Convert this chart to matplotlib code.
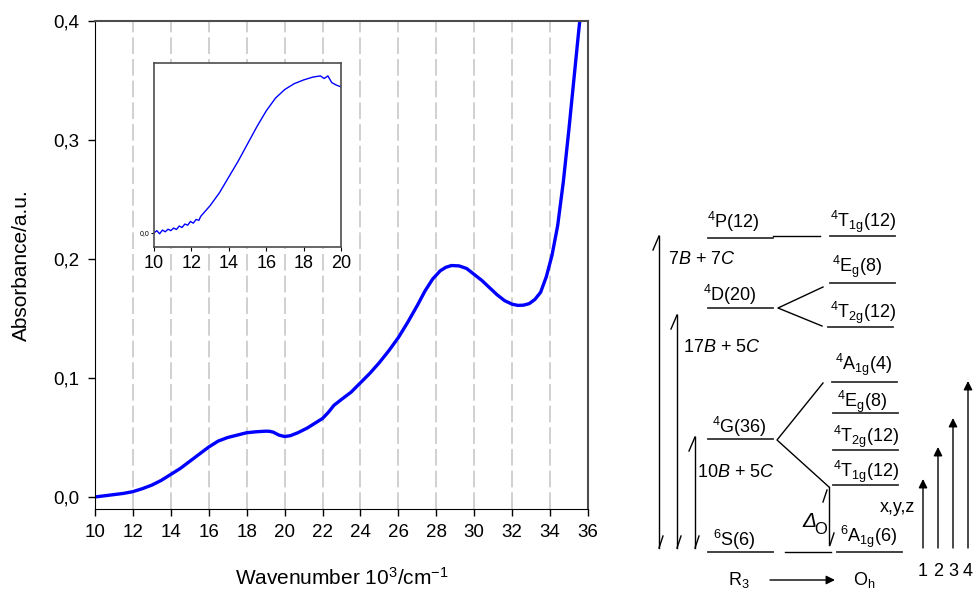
import numpy as np
import matplotlib
matplotlib.use('Agg')
from matplotlib import pyplot as plt
from matplotlib.ticker import FuncFormatter

plt.rcParams['font.family'] = ['Liberation Sans', 'DejaVu Sans']
plt.rcParams['mathtext.fontset'] = 'custom'
plt.rcParams['mathtext.rm'] = 'Liberation Sans'
plt.rcParams['mathtext.it'] = 'Liberation Sans:italic'
plt.rcParams['mathtext.bf'] = 'Liberation Sans:bold'

# absorption spectrum (10^3 cm^-1, a.u.)
wavenumber = [10, 10.5, 11, 11.5, 12, 12.5, 13, 13.5, 14, 14.5, 15, 15.5, 16, 16.5,
              17, 17.5, 18, 18.5, 19, 19.2, 19.4, 19.7, 20, 20.3, 20.7, 21.2, 21.6,
              22, 22.3, 22.6, 23, 23.5, 24, 24.5, 25, 25.5, 26, 26.5, 27, 27.4,
              27.8, 28.2, 28.5, 28.8, 29.2, 29.6, 30, 30.4, 30.8, 31.2, 31.6, 32,
              32.3, 32.6, 32.9, 33.2, 33.5, 33.8, 34.1, 34.4, 34.7, 35, 35.25,
              35.5, 35.7]
absorbance = [0.000, 0.001, 0.002, 0.003, 0.0045, 0.007, 0.010, 0.014, 0.019, 0.024,
              0.030, 0.036, 0.042, 0.047, 0.050, 0.052, 0.054, 0.0548, 0.0553,
              0.0552, 0.0545, 0.052, 0.0508, 0.0515, 0.054, 0.058, 0.062, 0.066,
              0.071, 0.077, 0.082, 0.088, 0.096, 0.104, 0.113, 0.123, 0.134, 0.147,
              0.161, 0.173, 0.183, 0.190, 0.193, 0.1945, 0.1942, 0.192, 0.187,
              0.182, 0.176, 0.170, 0.165, 0.162, 0.161, 0.1612, 0.1625, 0.166,
              0.172, 0.185, 0.203, 0.228, 0.265, 0.310, 0.350, 0.390, 0.420]

# inset: the 10-20 region, noisy at the low end
inset_wavenumber = [10, 10.15, 10.3, 10.45, 10.6, 10.75, 10.9, 11.05, 11.2, 11.35,
                    11.5, 11.65, 11.8, 11.95, 12.1, 12.25, 12.4, 12.5, 13, 13.5, 14,
                    14.5, 15, 15.5, 16, 16.5, 17, 17.5, 18, 18.5, 18.9, 19.1, 19.3,
                    19.5, 19.75, 20]
inset_absorbance = [0.0, 0.0008, -0.0003, 0.0010, 0.0004, 0.0013, 0.0008, 0.0017,
                    0.0012, 0.0024, 0.0019, 0.0031, 0.0027, 0.0040, 0.0034, 0.0047,
                    0.0044, 0.0058, 0.0095, 0.014, 0.0195, 0.025, 0.031, 0.037,
                    0.0425, 0.047, 0.050, 0.052, 0.0533, 0.0543, 0.0547, 0.0538,
                    0.0547, 0.0524, 0.0515, 0.0509]

x_ticks = np.arange(10, 37, 2)
y_ticks = [0.0, 0.1, 0.2, 0.3, 0.4]
inset_ticks = np.arange(10, 21, 2)

# term diagram: free ion (R3) terms split in the octahedral (Oh) field
free_ion_terms = [r'$^4$P(12)', r'$^4$D(20)', r'$^4$G(36)', r'$^6$S(6)']
oh_terms = [r'$^4$T$_\mathrm{1g}$(12)', r'$^4$E$_\mathrm{g}$(8)',
            r'$^4$T$_\mathrm{2g}$(12)', r'$^4$A$_\mathrm{1g}$(4)',
            r'$^4$E$_\mathrm{g}$(8)', r'$^4$T$_\mathrm{2g}$(12)',
            r'$^4$T$_\mathrm{1g}$(12)', r'$^6$A$_\mathrm{1g}$(6)']
gap_labels = [r'7$B$ + 7$C$', r'17$B$ + 5$C$', r'10$B$ + 5$C$']
transitions = ['1', '2', '3', '4']

comma = FuncFormatter(lambda v, p: f'{v:.1f}'.replace('.', ','))

fig = plt.figure(figsize=(9.74, 5.91), dpi=100)

# ---- main spectrum
ax = fig.add_axes([95 / 974, 1 - 509 / 591, 493 / 974, 488 / 591])
for x in x_ticks[1:-1]:
    ax.axvline(x, color='#c8c8c8', lw=1.2, linestyle=(0, (10, 3)), zorder=0)
ax.plot(wavenumber, absorbance, color='blue', lw=2.4, solid_capstyle='round',
        solid_joinstyle='round')
ax.set_xlim(10, 36)
ax.set_ylim(-0.0101, 0.4)
ax.set_xticks(x_ticks)
ax.set_yticks(y_ticks)
ax.yaxis.set_major_formatter(comma)
ax.tick_params(direction='out', length=5, width=1, labelsize=13.5, pad=6)
ax.spines['left'].set_color('black')
ax.spines['bottom'].set_color('black')
for side in ['top', 'right']:
    ax.spines[side].set_color('#4d4d4d')
    ax.spines[side].set_linewidth(1.5)
ax.set_xlabel('Wavenumber 10$^3$/cm$^{-1}$', fontsize=15)
ax.set_ylabel('Absorbance/a.u.', fontsize=15)
ax.xaxis.set_label_coords(0.5, -0.118)
ax.yaxis.set_label_coords(-0.13, 0.5)

# ---- inset
ins = fig.add_axes([154 / 974, 1 - 247 / 591, 187 / 974, 184 / 591])
ins.plot(inset_wavenumber, inset_absorbance, color='blue', lw=1)
ins.set_xlim(10, 20)
ins.set_ylim(-0.0049, 0.0592)
ins.set_xticks(inset_ticks)
ins.set_yticks([0.0])
ins.yaxis.set_major_formatter(comma)
ins.tick_params(axis='x', direction='out', length=3, labelsize=13, pad=3)
ins.tick_params(axis='y', direction='out', length=2, labelsize=5, pad=1)
for s in ins.spines.values():
    s.set_color('#4d4d4d')
    s.set_linewidth(1.2)

# ---- term diagram, drawn in pixel coordinates
dax = fig.add_axes([0, 0, 1, 1])
dax.set_xlim(0, 974)
dax.set_ylim(591, 0)
dax.axis('off')

fs = 13
lvl = dict(color='#333333', lw=1.3)
thin = dict(color='black', lw=1)

free_y = [237.5, 308, 439, 552]
free_tx = [707, 703, 712, 713]
free_ty = [228, 301, 433, 546]
for name, y, tx, ty in zip(free_ion_terms, free_y, free_tx, free_ty):
    dax.plot([708, 773], [y, y], **lvl)
    dax.text(tx, ty, name, fontsize=fs, va='baseline', ha='left')

oh_y = [236, 283, 327, 382, 413, 450, 485, 552]
oh_x = [830, 830, 828, 832, 833, 833, 833, 837]
oh_tx = [830, 832, 830, 835, 837, 833, 833, 840]
oh_ty = [227, 272, 318, 370, 407, 442, 477, 542]
for name, y, x0, tx, ty in zip(oh_terms, oh_y, oh_x, oh_tx, oh_ty):
    dax.plot([x0, x0 + 65], [y, y], **lvl)
    dax.text(tx, ty, name, fontsize=fs, va='baseline', ha='left')

# splitting lines
dax.plot([773, 820], [236, 236], **thin)
dax.plot([823, 778, 822], [287, 308, 326], **thin)
dax.plot([823, 777, 829], [383, 440, 487], **thin)
dax.plot([785, 831], [552, 552], **thin)

# energy gaps between the free ion terms
gap_x = [659, 677, 695]
gap_top = [236, 315, 437]
gap_tx = [668, 683, 697]
gap_ty = [264, 352, 477]
for x, top, label, tx, ty in zip(gap_x, gap_top, gap_labels, gap_tx, gap_ty):
    dax.plot([x, x], [top, 548], **thin)
    dax.plot([x - 6, x], [top + 14, top], **thin)
    dax.plot([x, x + 4], [548, 536], **thin)
    dax.text(tx, ty, label, fontsize=fs, va='baseline', ha='left')

# crystal field splitting
dax.plot([829, 829], [487, 545], **thin)
dax.plot([823, 827], [502, 490], **thin)
dax.plot([830, 834], [545, 533], **thin)
dax.text(802, 527, '\u0394', fontsize=fs + 2, style='italic', va='baseline', ha='left')
dax.text(814, 534, 'O', fontsize=fs - 1, va='baseline', ha='left')

# transitions
arrow_x = [923, 938, 953, 968]
arrow_top = [479, 447, 418, 381]
for x, top, label in zip(arrow_x, arrow_top, transitions):
    dax.annotate('', xy=(x, top), xytext=(x, 548),
                 arrowprops=dict(arrowstyle='-|>', color='black', lw=1,
                                 mutation_scale=13, shrinkA=0, shrinkB=0))
    dax.text(x, 576, label, fontsize=fs, va='baseline', ha='center')
dax.text(880, 512, 'x,y,z', fontsize=fs, va='baseline', ha='left')

dax.text(728, 585, r'R$_3$', fontsize=fs, va='baseline', ha='left')
dax.text(853, 585, r'O$_\mathrm{h}$', fontsize=fs, va='baseline', ha='left')
dax.annotate('', xy=(835, 580), xytext=(770, 580),
             arrowprops=dict(arrowstyle='-|>', color='black', lw=1,
                             mutation_scale=13, shrinkA=0, shrinkB=0))

fig.savefig('out.png', dpi=100)
